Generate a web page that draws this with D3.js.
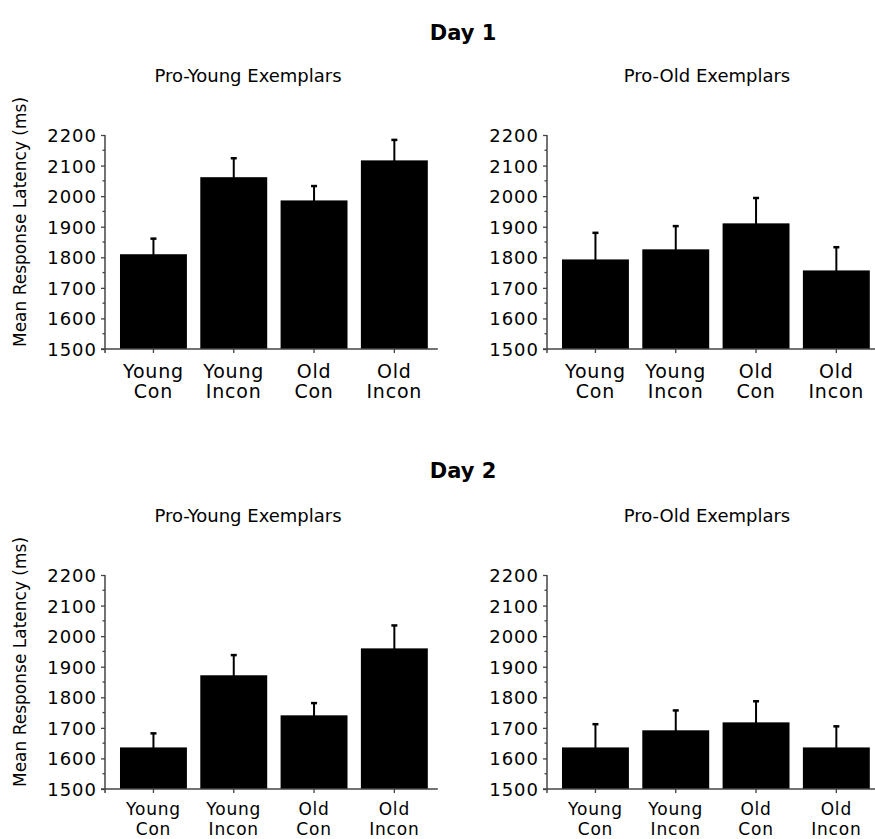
<!DOCTYPE html>
<html lang="en">
<head>
  <meta charset="UTF-8">
  <title>Mean Response Latency</title>
  <script src="https://d3js.org/d3.v7.min.js"></script>
  <style>
    body {
      margin: 0;
      background: #fff;
    }
    svg text {
      font-family: "DejaVu Sans", sans-serif;
      fill: #000;
    }
    .tick-label {
      font-size: 18px;
      letter-spacing: 1px;
    }
    .cat-label {
      letter-spacing: 0.8px;
    }
  </style>
</head>
<body>
  <svg id="chart" width="875" height="839"></svg>

  <script>
    // categories (two-line labels)
    const categories = [["Young", "Con"], ["Young", "Incon"], ["Old", "Con"], ["Old", "Incon"]];
    const yTicks = [1500, 1600, 1700, 1800, 1900, 2000, 2100, 2200];
    const yMinorTicks = [1550, 1650, 1750, 1850, 1950, 2050, 2150];

    // means and standard errors
    const day1ProYoung = [1810, 2062, 1986, 2117];
    const day1ProYoungErr = [51, 62, 47, 67];
    const day1ProOld = [1793, 1826, 1911, 1757];
    const day1ProOldErr = [87, 76, 83, 76];
    const day2ProYoung = [1636, 1872, 1741, 1960];
    const day2ProYoungErr = [46, 66, 40, 75];
    const day2ProOld = [1636, 1692, 1718, 1636];
    const day2ProOldErr = [76, 65, 69, 69];

    const svg = d3.select("#chart");

    const panels = [
      { day: "Day 1", title: "Pro-Young Exemplars", values: day1ProYoung, errs: day1ProYoungErr, col: 0, row: 0 },
      { day: "Day 1", title: "Pro-Old Exemplars", values: day1ProOld, errs: day1ProOldErr, col: 1, row: 0 },
      { day: "Day 2", title: "Pro-Young Exemplars", values: day2ProYoung, errs: day2ProYoungErr, col: 0, row: 1 },
      { day: "Day 2", title: "Pro-Old Exemplars", values: day2ProOld, errs: day2ProOldErr, col: 1, row: 1 }
    ];

    const colX = [105, 547];      // y-axis position per column
    const rowY = [349, 789];      // baseline (1500) per row
    const plotH = 214;
    const step = 80.3;
    const subtitleX = [248, 707];
    // label line offsets / size per row; bottom row a bit smaller to stay inside the page
    const labelOffsets = [[29, 49], [26, 46]];
    const labelSizes = ["19px", "17px"];

    // day titles
    ["Day 1", "Day 2"].forEach((d, i) => {
      svg.append("text")
        .attr("x", 463)
        .attr("y", i === 0 ? 40 : 478)
        .attr("text-anchor", "middle")
        .style("font-size", "21px")
        .style("font-weight", "bold")
        .text(d);
    });

    panels.forEach(p => {
      const ax = colX[p.col];
      const base = rowY[p.row];
      const g = svg.append("g");

      const y = d3.scaleLinear().domain([1500, 2200]).range([base, base - plotH]);
      const x0 = ax + 8.3;
      const x = d3.scaleBand()
        .domain(d3.range(categories.length))
        .range([x0, x0 + step * categories.length])
        .paddingInner(1 / 6)
        .paddingOuter(1 / 12);

      // subtitle
      g.append("text")
        .attr("x", subtitleX[p.col])
        .attr("y", base - plotH - 53)
        .attr("text-anchor", "middle")
        .style("font-size", "18px")
        .text(p.title);

      // y-axis title only on the left column
      if (p.col === 0) {
        g.append("text")
          .attr("transform", `translate(26, ${base - 127}) rotate(-90)`)
          .attr("text-anchor", "middle")
          .style("font-size", "17px")
          .text("Mean Response Latency (ms)");
      }

      // bars
      g.selectAll(".bar")
        .data(p.values)
        .enter()
        .append("rect")
        .attr("x", (d, i) => x(i))
        .attr("y", d => y(d))
        .attr("width", x.bandwidth())
        .attr("height", d => y(1500) - y(d))
        .attr("fill", "#000");

      // error bars
      const cx = i => x(i) + x.bandwidth() / 2;
      g.selectAll(".err")
        .data(p.values)
        .enter()
        .append("line")
        .attr("x1", (d, i) => cx(i))
        .attr("x2", (d, i) => cx(i))
        .attr("y1", d => y(d) + 2)
        .attr("y2", (d, i) => y(d + p.errs[i]))
        .attr("stroke", "#000")
        .attr("stroke-width", 2);

      g.selectAll(".cap")
        .data(p.values)
        .enter()
        .append("line")
        .attr("x1", (d, i) => cx(i) - 3)
        .attr("x2", (d, i) => cx(i) + 3)
        .attr("y1", (d, i) => y(d + p.errs[i]))
        .attr("y2", (d, i) => y(d + p.errs[i]))
        .attr("stroke", "#000")
        .attr("stroke-width", 2.5);

      // y axis
      const yAxis = d3.axisLeft(y)
        .tickValues(yTicks)
        .tickFormat(d3.format("d"))
        .tickSize(4)
        .tickPadding(4)
        .tickSizeOuter(0);

      const yg = g.append("g")
        .attr("transform", `translate(${ax},0)`)
        .call(yAxis);
      yg.select(".domain").remove();
      yg.selectAll(".tick line").attr("stroke", "#444").attr("stroke-width", 1.3);
      yg.selectAll(".tick text")
        .attr("class", "tick-label")
        .attr("dy", "0.36em");

      g.selectAll(".minor")
        .data(yMinorTicks)
        .enter()
        .append("line")
        .attr("x1", ax - 2.5)
        .attr("x2", ax)
        .attr("y1", d => y(d))
        .attr("y2", d => y(d))
        .attr("stroke", "#444")
        .attr("stroke-width", 1.3);

      const lastBarEnd = x(categories.length - 1) + x.bandwidth();

      // axis lines
      g.append("line")
        .attr("x1", ax).attr("x2", ax)
        .attr("y1", y(2200)).attr("y2", y(1500) + 4)
        .attr("stroke", "#444").attr("stroke-width", 1.5);
      g.append("line")
        .attr("x1", ax - 4).attr("x2", lastBarEnd + 10)
        .attr("y1", y(1500)).attr("y2", y(1500))
        .attr("stroke", "#444").attr("stroke-width", 1.5);

      // x ticks
      g.selectAll(".xtick")
        .data(categories)
        .enter()
        .append("line")
        .attr("x1", (d, i) => cx(i)).attr("x2", (d, i) => cx(i))
        .attr("y1", y(1500)).attr("y2", y(1500) + 4)
        .attr("stroke", "#444").attr("stroke-width", 1.3);

      // category labels, one text element per line
      const offs = labelOffsets[p.row];
      categories.forEach((lines, i) => {
        lines.forEach((line, j) => {
          g.append("text")
            .attr("class", "cat-label")
            .attr("text-anchor", "middle")
            .attr("x", cx(i))
            .attr("y", y(1500) + offs[j])
            .style("font-size", labelSizes[p.row])
            .text(line);
        });
      });
    });
  </script>
</body>
</html>
